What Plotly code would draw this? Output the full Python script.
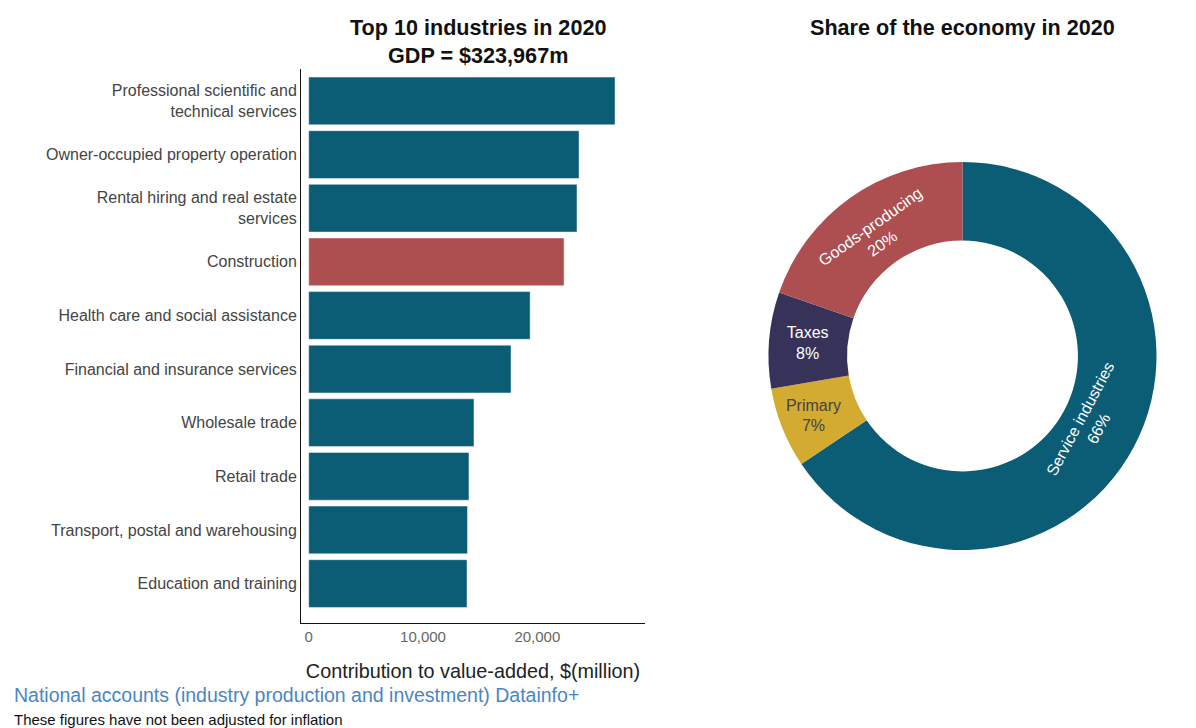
import plotly.graph_objects as go

# ---- data ----
industries = [
    "Professional scientific and<br>technical services",
    "Owner-occupied property operation",
    "Rental hiring and real estate<br>services",
    "Construction",
    "Health care and social assistance",
    "Financial and insurance services",
    "Wholesale trade",
    "Retail trade",
    "Transport, postal and warehousing",
    "Education and training",
]
values_m = [26800, 23650, 23470, 22340, 19370, 17700, 14460, 14020, 13890, 13850]
highlight = "Construction"

sectors = ["Service industries", "Primary", "Taxes", "Goods-producing"]
sector_share = [65.6, 6.7, 8.0, 19.7]

x_ticks = [0, 10000, 20000]

TEAL = "#0b5c75"
RED = "#ad4f51"
NAVY = "#36325a"
GOLD = "#d3ab30"
sector_colors = [TEAL, GOLD, NAVY, RED]
bar_colors = [RED if c == highlight else TEAL for c in industries]

FONT = "Liberation Sans, Arial, sans-serif"

fig = go.Figure()

fig.add_trace(go.Bar(
    x=values_m,
    y=industries,
    orientation="h",
    marker=dict(color=bar_colors, line=dict(color="rgba(255,255,255,0.45)", width=1)),
    xaxis="x", yaxis="y",
    showlegend=False,
    hovertemplate="%{y}: $%{x:,}m<extra></extra>",
))

fig.add_trace(go.Pie(
    labels=sectors,
    values=sector_share,
    sort=False,
    direction="clockwise",
    rotation=0,
    hole=0.595,
    marker=dict(colors=sector_colors, line=dict(width=0)),
    texttemplate="%{label}<br>%{percent:.0%}",
    textposition="inside",
    insidetextorientation="auto",
    textfont=dict(size=16, family=FONT),
    domain=dict(x=[768.5 / 1196, 1156.5 / 1196], y=[1 - 550 / 728, 1 - 162 / 728]),
    showlegend=False,
))

fig.update_layout(
    width=1196, height=728,
    margin=dict(l=0, r=0, t=0, b=0),
    paper_bgcolor="white", plot_bgcolor="white",
    font=dict(family=FONT, size=16, color="#444"),
    bargap=0.11,
    xaxis=dict(
        domain=[301 / 1196, 645 / 1196],
        anchor="y",
        range=[-674, 29420],
        tickvals=x_ticks,
        tickformat=",",
        tickfont=dict(size=15, color="#666"),
        showgrid=False, zeroline=False,
        showline=True, linecolor="#111", linewidth=1,
        ticks="",
        title=dict(text="Contribution to value-added, $(million)",
                   font=dict(size=19.8, color="#222"), standoff=20),
    ),
    yaxis=dict(
        domain=[1 - 623 / 728, 1 - 69 / 728],
        anchor="x",
        categoryorder="array",
        categoryarray=industries[::-1],
        range=[-0.735, 9.596],
        tickfont=dict(size=16, color="#444"),
        showgrid=False, zeroline=False,
        showline=True, linecolor="#111", linewidth=1,
        ticks="",
    ),
    annotations=[
        dict(text="<b>Top 10 industries in 2020</b><br><b>GDP = $323,967m</b>",
             x=478 / 1196, y=1 - 41 / 728, xref="paper", yref="paper",
             xanchor="center", yanchor="middle", showarrow=False,
             font=dict(size=21.6, color="#111")),
        dict(text="<b>Share of the economy in 2020</b>",
             x=962 / 1196, y=1 - 28 / 728, xref="paper", yref="paper",
             xanchor="center", yanchor="middle", showarrow=False,
             font=dict(size=21.6, color="#111")),
        dict(text="National accounts (industry production and investment) Datainfo+",
             x=12 / 1196, y=1 - 695 / 728, xref="paper", yref="paper",
             xanchor="left", yanchor="middle", showarrow=False,
             font=dict(size=19.5, color="#4a86c5")),
        dict(text="These figures have not been adjusted for inflation",
             x=12 / 1196, y=1 - 719 / 728, xref="paper", yref="paper",
             xanchor="left", yanchor="middle", showarrow=False,
             font=dict(size=15, color="#111")),
    ],
)

fig.write_html("out.html")
